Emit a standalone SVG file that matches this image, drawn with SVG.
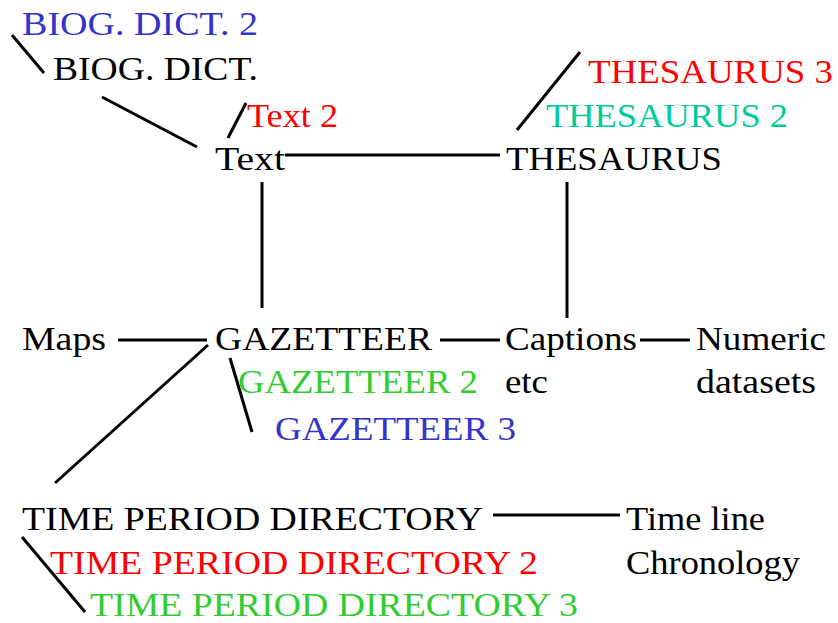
<svg xmlns="http://www.w3.org/2000/svg" width="838" height="623" viewBox="0 0 838 623">
<rect width="838" height="623" fill="#fff"/>
<g id="connectors" stroke="#000" stroke-width="3">
<line x1="12" y1="35" x2="44" y2="73"/>
<line x1="102" y1="97" x2="197" y2="147"/>
<line x1="228" y1="138" x2="246" y2="103"/>
<line x1="285" y1="155" x2="500" y2="155"/>
<line x1="580" y1="52" x2="517" y2="130"/>
<line x1="262" y1="182" x2="262" y2="308"/>
<line x1="567" y1="182" x2="567" y2="318"/>
<line x1="118" y1="340" x2="207" y2="340"/>
<line x1="440" y1="340" x2="500" y2="340"/>
<line x1="640" y1="340" x2="690" y2="340"/>
<line x1="208" y1="345" x2="55" y2="483"/>
<line x1="230" y1="358" x2="252" y2="432"/>
<line x1="493" y1="515" x2="620" y2="515"/>
<line x1="22" y1="537" x2="85" y2="612"/>
</g>
<g id="n-biog2"><text font-family="Liberation Serif" font-size="33" fill="#3333cc" x="22" y="35" textLength="236" lengthAdjust="spacingAndGlyphs">BIOG. DICT. 2</text></g>
<g id="n-biog"><text font-family="Liberation Serif" font-size="33" fill="#000" x="53" y="80" textLength="205" lengthAdjust="spacingAndGlyphs">BIOG. DICT.</text></g>
<g id="n-text2"><text font-family="Liberation Serif" font-size="33" fill="#ff0000" x="247" y="127" textLength="91" lengthAdjust="spacingAndGlyphs">Text 2</text></g>
<g id="n-textnode"><text font-family="Liberation Serif" font-size="33" fill="#000" x="215" y="170" textLength="70" lengthAdjust="spacingAndGlyphs">Text</text></g>
<g id="n-thes3"><text font-family="Liberation Serif" font-size="33" fill="#ff0000" x="588" y="83" textLength="245" lengthAdjust="spacingAndGlyphs">THESAURUS 3</text></g>
<g id="n-thes2"><text font-family="Liberation Serif" font-size="33" fill="#00cc99" x="546" y="127" textLength="242" lengthAdjust="spacingAndGlyphs">THESAURUS 2</text></g>
<g id="n-thes"><text font-family="Liberation Serif" font-size="33" fill="#000" x="506" y="170" textLength="216" lengthAdjust="spacingAndGlyphs">THESAURUS</text></g>
<g id="n-maps"><text font-family="Liberation Serif" font-size="33" fill="#000" x="22" y="350" textLength="84" lengthAdjust="spacingAndGlyphs">Maps</text></g>
<g id="n-gaz"><text font-family="Liberation Serif" font-size="33" fill="#000" x="215" y="350" textLength="217" lengthAdjust="spacingAndGlyphs">GAZETTEER</text></g>
<g id="n-captions"><text font-family="Liberation Serif" font-size="33" fill="#000" x="505" y="350" textLength="132" lengthAdjust="spacingAndGlyphs">Captions</text><text font-family="Liberation Serif" font-size="33" fill="#000" x="505" y="393" textLength="43" lengthAdjust="spacingAndGlyphs">etc</text></g>
<g id="n-numeric"><text font-family="Liberation Serif" font-size="33" fill="#000" x="696" y="350" textLength="130" lengthAdjust="spacingAndGlyphs">Numeric</text><text font-family="Liberation Serif" font-size="33" fill="#000" x="696" y="393" textLength="120" lengthAdjust="spacingAndGlyphs">datasets</text></g>
<g id="n-gaz2"><text font-family="Liberation Serif" font-size="33" fill="#33cc33" x="238" y="393" textLength="240" lengthAdjust="spacingAndGlyphs">GAZETTEER 2</text></g>
<g id="n-gaz3"><text font-family="Liberation Serif" font-size="33" fill="#3333cc" x="275" y="440" textLength="241" lengthAdjust="spacingAndGlyphs">GAZETTEER 3</text></g>
<g id="n-tpd"><text font-family="Liberation Serif" font-size="33" fill="#000" x="22" y="530" textLength="461" lengthAdjust="spacingAndGlyphs">TIME PERIOD DIRECTORY</text></g>
<g id="n-timeline"><text font-family="Liberation Serif" font-size="33" fill="#000" x="626" y="530" textLength="139" lengthAdjust="spacingAndGlyphs">Time line</text><text font-family="Liberation Serif" font-size="33" fill="#000" x="626" y="574" textLength="174" lengthAdjust="spacingAndGlyphs">Chronology</text></g>
<g id="n-tpd2"><text font-family="Liberation Serif" font-size="33" fill="#ff0000" x="50" y="574" textLength="488" lengthAdjust="spacingAndGlyphs">TIME PERIOD DIRECTORY 2</text></g>
<g id="n-tpd3"><text font-family="Liberation Serif" font-size="33" fill="#33cc33" x="90" y="616" textLength="488" lengthAdjust="spacingAndGlyphs">TIME PERIOD DIRECTORY 3</text></g>
</svg>
